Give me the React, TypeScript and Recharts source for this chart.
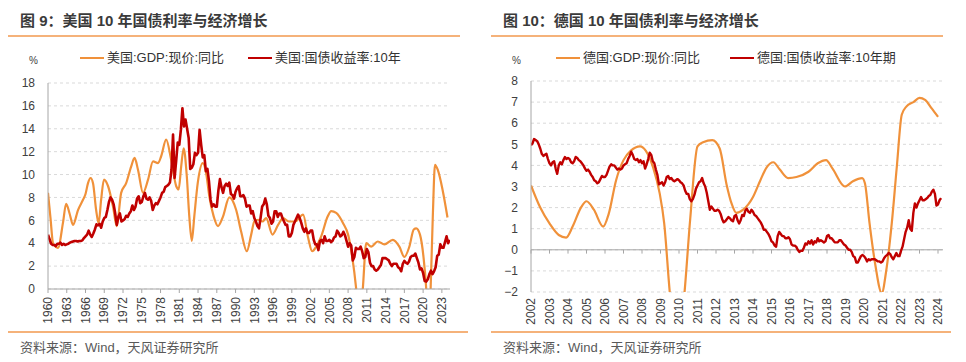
import { CartesianGrid, Line, LineChart, ReferenceLine, XAxis, YAxis } from "recharts";

const FONT = '"Liberation Sans", Arial, "Noto Sans CJK SC", sans-serif';
const ORANGE = "#F0913A";
const RED = "#C00000";
const AXIS = "#a6a6a6";
const GRID = "#d9d9d9";
const TEXT = "#404040";
const RULE = "#F5B27A";

// 美国 —— x 轴刻度
const usTicks = [1960, 1963, 1966, 1969, 1972, 1975, 1978, 1981, 1984, 1987, 1990, 1993, 1996, 1999, 2002, 2005, 2008, 2011, 2014, 2017, 2020, 2023];
const usYTicks = [0, 2, 4, 6, 8, 10, 12, 14, 16, 18];

// 美国:GDP:现价:同比 (时间, %)
const usGdp = [
  [1960.0, 8.4], [1960.4, 6.2], [1960.8, 4.0], [1961.6, 3.6], [1962.4, 5.8], [1962.9, 7.45], [1963.45, 6.6], [1964.0, 5.6],
  [1964.8, 6.9], [1965.6, 7.8], [1966.0, 8.3], [1966.4, 9.25], [1966.8, 9.7], [1967.2, 9.25], [1967.7, 6.9], [1968.1, 5.75],
  [1968.5, 7.8], [1968.95, 9.55], [1969.6, 9.0], [1970.4, 7.2], [1971.0, 5.5], [1971.7, 8.4], [1972.5, 9.25], [1973.3, 10.7],
  [1973.85, 11.45], [1974.4, 10.4], [1975.2, 8.4], [1976.0, 9.55], [1976.8, 11.15], [1977.6, 11.0], [1978.1, 11.6], [1978.9, 13.05],
  [1979.7, 11.3], [1980.5, 9.0], [1980.9, 8.7], [1981.3, 10.7], [1981.7, 12.3], [1982.2, 9.85], [1982.6, 6.35], [1983.0, 4.2],
  [1983.4, 6.35], [1983.95, 9.25], [1984.75, 11.0], [1985.3, 10.1], [1985.8, 8.1], [1986.5, 6.35], [1987.2, 5.5], [1988.0, 6.35],
  [1989.0, 8.0], [1990.1, 6.9], [1990.9, 5.0], [1991.8, 3.3], [1992.5, 4.75], [1993.0, 5.9], [1993.6, 6.05], [1994.3, 5.9],
  [1994.9, 6.2], [1995.9, 4.75], [1996.8, 5.6], [1997.6, 6.2], [1998.5, 5.9], [1999.5, 5.9], [2000.8, 6.5], [2001.6, 4.5],
  [2002.25, 3.3], [2003.0, 3.8], [2003.7, 4.6], [2004.75, 6.35], [2005.3, 6.8], [2006.1, 6.65], [2007.2, 5.75], [2008.0, 4.75],
  [2008.65, 2.85], [2009.3, 0], [2009.8, -3], [2010.35, 0], [2010.9, 4.0], [2011.7, 3.7], [2012.75, 4.15], [2013.8, 3.9],
  [2015.15, 4.3], [2016.2, 3.7], [2017.0, 2.8], [2017.8, 3.7], [2018.5, 5.2], [2018.9, 5.3], [2019.5, 4.75], [2020.05, 2.85],
  [2020.5, 0], [2020.85, -4], [2021.2, 0], [2021.55, 6.35], [2021.9, 10.85], [2022.35, 10.4], [2023.1, 8.7], [2023.9, 6.25],
];

// 美国:国债收益率:10年 (季度, 1960Q1 起)
const usYield = [
  4.75, 4.35, 3.95, 3.85, 3.85, 3.75, 3.95, 3.95, 4.05, 3.85, 3.95, 3.85, 3.9, 3.95, 4.05, 4.1,
  4.15, 4.2, 4.2, 4.15, 4.2, 4.2, 4.25, 4.45, 4.6, 4.75, 5.1, 4.75, 4.55, 4.85, 5.2, 5.65,
  5.55, 5.7, 5.35, 5.9, 6.2, 6.3, 6.9, 7.6, 8.0, 7.8, 7.4, 6.6, 5.6, 6.3, 6.6, 5.9,
  6.0, 6.1, 6.4, 6.3, 6.6, 6.8, 7.3, 6.9, 7.2, 7.9, 8.1, 7.5, 7.6, 8.1, 8.4, 7.9,
  7.8, 8.0, 7.7, 6.9, 7.3, 7.5, 7.4, 7.7, 8.0, 8.4, 8.5, 8.9, 9.0, 9.1, 9.3, 10.4,
  13.5, 9.7, 11.2, 12.8, 12.6, 13.9, 15.8, 14.2, 14.8, 14.0, 13.2, 10.5, 10.6, 10.9, 11.9, 11.7,
  11.9, 13.9, 12.6, 11.5, 11.7, 10.3, 10.5, 9.4, 7.8, 7.2, 7.4, 7.2, 7.2, 8.6, 9.6, 8.9,
  8.4, 9.0, 9.2, 9.0, 9.3, 8.3, 8.2, 7.9, 8.5, 8.8, 9.0, 8.1, 8.1, 8.2, 7.9, 7.2,
  7.3, 7.3, 6.6, 6.8, 6.2, 5.9, 5.5, 5.3, 6.2, 7.2, 7.4, 7.9, 7.4, 6.4, 6.2, 5.7,
  5.9, 6.8, 6.8, 6.3, 6.6, 6.6, 6.2, 5.9, 5.6, 5.6, 4.6, 4.6, 4.9, 5.6, 5.9, 6.2,
  6.5, 6.2, 5.8, 5.3, 5.0, 5.3, 4.9, 4.9, 5.1, 5.1, 4.3, 3.9, 3.9, 3.4, 4.2, 4.3,
  4.0, 4.6, 4.2, 4.2, 4.3, 4.1, 4.2, 4.5, 4.6, 5.1, 4.9, 4.6, 4.7, 5.0, 4.7, 4.2,
  3.7, 4.0, 3.8, 2.5, 2.8, 3.6, 3.5, 3.5, 3.7, 3.3, 2.7, 2.8, 3.5, 3.2, 2.3, 2.0,
  2.0, 1.7, 1.6, 1.7, 1.9, 2.1, 2.7, 2.7, 2.7, 2.6, 2.5, 2.2, 2.0, 2.2, 2.2, 2.2,
  1.9, 1.8, 1.55, 2.2, 2.45, 2.3, 2.2, 2.4, 2.8, 2.9, 2.9, 3.1, 2.7, 2.3, 1.7, 1.8,
  1.4, 0.7, 0.65, 0.85, 1.3, 1.6, 1.3, 1.55, 1.9, 2.9, 3.0, 3.9, 3.6, 3.6, 4.1, 4.6,
  4.0, 4.3,
];

// 德国 —— x 轴刻度
const deTicks = [2002, 2003, 2004, 2005, 2006, 2007, 2008, 2009, 2010, 2011, 2012, 2013, 2014, 2015, 2016, 2017, 2018, 2019, 2020, 2021, 2022, 2023, 2024];
const deYTicks = [-2, -1, 0, 1, 2, 3, 4, 5, 6, 7, 8];

// 德国:GDP:现价:同比 (时间, %)
const deGdp = [
  [2002.0, 3.05], [2002.5, 2.0], [2003.0, 1.25], [2003.5, 0.7], [2003.9, 0.58], [2004.25, 1.1], [2004.7, 2.0], [2005.0, 2.3],
  [2005.4, 1.9], [2005.9, 1.1], [2006.2, 1.7], [2006.6, 3.3], [2007.0, 4.25], [2007.4, 4.7], [2007.9, 4.9], [2008.2, 4.7],
  [2008.6, 3.9], [2008.95, 2.7], [2009.2, 1.25], [2009.5, -2.0], [2009.9, -5], [2010.3, -2.0], [2010.6, 1.4], [2011.0, 4.9],
  [2011.3, 5.1], [2011.8, 5.2], [2012.2, 4.8], [2012.57, 3.1], [2012.84, 2.2], [2013.1, 1.75], [2013.47, 1.9], [2014.0, 2.5],
  [2014.4, 3.3], [2014.73, 3.9], [2015.1, 4.15], [2015.45, 3.8], [2015.9, 3.4], [2016.35, 3.45], [2017.0, 3.7], [2017.5, 4.1],
  [2017.95, 4.25], [2018.3, 3.85], [2018.97, 3.0], [2019.4, 3.25], [2019.9, 3.4], [2020.05, 3.15], [2020.3, 1.25], [2020.6, -0.65],
  [2020.96, -2.05], [2021.2, -1.0], [2021.5, 1.25], [2021.77, 3.9], [2022.04, 6.4], [2022.3, 6.8], [2022.67, 7.0], [2023.0, 7.2],
  [2023.3, 7.1], [2023.66, 6.7], [2024.0, 6.3],
];

// 德国:国债收益率:10年期 (月度, 2002-01 起)
const deYield = [
  4.95, 5.05, 5.25, 5.2, 5.15, 5.0, 4.8, 4.55, 4.45, 4.5, 4.55, 4.3,
  4.1, 4.0, 4.15, 4.2, 3.85, 3.6, 4.0, 4.15, 4.05, 4.25, 4.4, 4.3,
  4.35, 4.3, 4.15, 4.1, 4.2, 4.4, 4.35, 4.25, 4.2, 4.1, 4.0, 3.85,
  3.75, 3.8, 3.7, 3.55, 3.45, 3.3, 3.25, 3.15, 3.2, 3.35, 3.5, 3.45,
  3.45, 3.55, 3.75, 3.95, 4.05, 4.0, 4.0, 3.9, 3.8, 3.85, 3.8, 3.85,
  4.0, 4.05, 4.1, 4.3, 4.45, 4.65, 4.5, 4.3, 4.25, 4.3, 4.15, 4.25,
  4.1, 4.2, 3.85, 4.05, 4.3, 4.6, 4.5, 4.2, 4.1, 3.8, 3.55, 3.1,
  3.15, 3.2, 3.05, 3.2, 3.45, 3.5, 3.35, 3.4, 3.3, 3.25, 3.3, 3.35,
  3.3, 3.2, 3.15, 3.05, 2.8, 2.65, 2.65, 2.4, 2.3, 2.4, 2.6, 2.9,
  3.05, 3.2, 3.25, 3.4, 3.15, 3.0, 2.7, 2.3, 1.9, 2.05, 1.95, 1.85,
  1.85, 1.9, 1.85, 1.7, 1.45, 1.3, 1.35, 1.45, 1.55, 1.5, 1.4, 1.35,
  1.6, 1.65, 1.4, 1.25, 1.4, 1.65, 1.6, 1.85, 1.95, 1.8, 1.75, 1.9,
  1.8, 1.65, 1.6, 1.5, 1.4, 1.3, 1.15, 0.95, 0.95, 0.85, 0.75, 0.6,
  0.4, 0.35, 0.2, 0.15, 0.65, 0.85, 0.75, 0.65, 0.65, 0.55, 0.55, 0.6,
  0.5, 0.25, 0.2, 0.2, 0.15, 0.0, -0.1, -0.05, -0.05, 0.1, 0.3, 0.25,
  0.4, 0.3, 0.45, 0.25, 0.4, 0.35, 0.55, 0.4, 0.45, 0.4, 0.35, 0.4,
  0.65, 0.7, 0.55, 0.55, 0.45, 0.35, 0.35, 0.35, 0.45, 0.45, 0.35, 0.25,
  0.2, 0.1, 0.0, 0.0, -0.1, -0.3, -0.35, -0.6, -0.6, -0.45, -0.3, -0.25,
  -0.3, -0.4, -0.55, -0.45, -0.5, -0.45, -0.45, -0.45, -0.5, -0.55, -0.55, -0.6,
  -0.55, -0.4, -0.3, -0.25, -0.15, -0.2, -0.35, -0.45, -0.3, -0.15, -0.3, -0.3,
  -0.05, 0.15, 0.5, 0.85, 1.05, 1.4, 1.0, 0.9, 1.75, 2.2, 2.0, 2.2,
  2.35, 2.5, 2.35, 2.35, 2.4, 2.45, 2.55, 2.6, 2.75, 2.85, 2.65, 2.1,
  2.15, 2.35, 2.45,
];

const usGdpData = usGdp.map(([t, v]) => ({ t, v }));
const usYieldData = usYield.map((v, i) => ({ t: 1960 + i / 4, v }));
const deGdpData = deGdp.map(([t, v]) => ({ t, v }));
const deYieldData = deYield.map((v, i) => ({ t: 2002 + i / 12, v }));

function fmtMinus(v: number) {
  return v < 0 ? `\u2212${-v}` : `${v}`;
}

function YearTick({ x, y, payload }: any) {
  return (
    <text x={x} y={y} transform={`rotate(-90, ${x}, ${y})`} textAnchor="end" dy="0.35em" fontSize={12} fill={TEXT} fontFamily={FONT}>
      {payload.value}
    </text>
  );
}

type LegendItem = { name: string; color: string; x: number };

function Frame({ left, title, items, children }: { left: number; title: string; items: LegendItem[]; children: any }) {
  return (
    <div style={{ position: "absolute", left, top: 0, width: 483, height: 362 }}>
      <div style={{ position: "absolute", left: 20, top: 10, fontSize: 15, fontWeight: 700, color: "#3a3a3a", lineHeight: "22px", whiteSpace: "nowrap" }}>
        {title}
      </div>
      <div style={{ position: "absolute", left: 8, top: 35, width: 452, height: 2, background: RULE }} />
      <div style={{ position: "absolute", left: 0, top: 0 }}>{children}</div>
      <div style={{ position: "absolute", left: 29, top: 54, fontSize: 10, color: TEXT, lineHeight: "14px" }}>%</div>
      {items.map((it) => (
        <div key={it.name} style={{ position: "absolute", left: it.x, top: 49, height: 18, display: "flex", alignItems: "center", whiteSpace: "nowrap" }}>
          <div style={{ width: 24, height: 2.5, background: it.color, marginRight: 3 }} />
          <span style={{ fontSize: 13, color: "#333", lineHeight: "18px" }}>{it.name}</span>
        </div>
      ))}
      <div style={{ position: "absolute", left: 8, top: 331, width: 460, height: 2, background: RULE }} />
      <div style={{ position: "absolute", left: 20, top: 339, fontSize: 13, color: "#595959", lineHeight: "18px", whiteSpace: "nowrap" }}>
        资料来源：Wind，天风证券研究所
      </div>
    </div>
  );
}

function UsChart() {
  return (
    <LineChart width={483} height={362} margin={{ top: 83, right: 33, bottom: 0, left: 0 }}>
      <CartesianGrid vertical={false} stroke={GRID} strokeDasharray="3 3" />
      <XAxis
        type="number"
        dataKey="t"
        domain={[1960, 2024.3]}
        ticks={usTicks}
        interval={0}
        allowDataOverflow
        height={73}
        stroke={AXIS}
        tickSize={4}
        tickMargin={4}
        tick={<YearTick />}
      />
      <YAxis
        type="number"
        domain={[0, 18]}
        ticks={usYTicks}
        interval={0}
        allowDataOverflow
        width={48}
        axisLine={{ stroke: AXIS }}
        tickLine={false}
        tickSize={0}
        tickMargin={13}
        tick={{ fontSize: 12, fill: TEXT, fontFamily: FONT }}
      />
      <Line data={usGdpData} dataKey="v" type="monotone" stroke={ORANGE} strokeWidth={2.2} dot={false} isAnimationActive={false} />
      <Line data={usYieldData} dataKey="v" type="linear" stroke={RED} strokeWidth={2.6} strokeLinejoin="round" dot={false} isAnimationActive={false} />
    </LineChart>
  );
}

function DeChart() {
  return (
    <LineChart width={483} height={362} margin={{ top: 81, right: 23, bottom: 0, left: 0 }}>
      <CartesianGrid vertical={false} stroke={GRID} strokeDasharray="3 3" />
      <XAxis
        type="number"
        dataKey="t"
        domain={[2002, 2024.27]}
        ticks={deTicks}
        interval={0}
        allowDataOverflow
        height={70}
        axisLine={false}
        tickLine={false}
        tickSize={0}
        tickMargin={6}
        tick={<YearTick />}
      />
      <YAxis
        type="number"
        domain={[-2, 8]}
        ticks={deYTicks}
        interval={0}
        allowDataOverflow
        width={48}
        axisLine={{ stroke: AXIS }}
        tickLine={false}
        tickSize={0}
        tickMargin={13}
        tickFormatter={fmtMinus}
        tick={{ fontSize: 12, fill: TEXT, fontFamily: FONT }}
      />
      <ReferenceLine y={0} stroke={AXIS} />
      {deTicks.map((yr) => (
        <ReferenceLine key={yr} segment={[{ x: yr, y: 0 }, { x: yr, y: -0.18 }]} stroke={AXIS} />
      ))}
      <Line data={deGdpData} dataKey="v" type="monotone" stroke={ORANGE} strokeWidth={2.2} dot={false} isAnimationActive={false} />
      <Line data={deYieldData} dataKey="v" type="linear" stroke={RED} strokeWidth={2.4} strokeLinejoin="round" dot={false} isAnimationActive={false} />
    </LineChart>
  );
}

export default function App() {
  return (
    <div style={{ position: "absolute", left: 0, top: 0, width: 966, height: 362, background: "#fff", fontFamily: FONT, overflow: "hidden" }}>
      <Frame
        left={0}
        title="图 9：美国 10 年国债利率与经济增长"
        items={[
          { name: "美国:GDP:现价:同比", color: ORANGE, x: 80 },
          { name: "美国:国债收益率:10年", color: RED, x: 248 },
        ]}
      >
        <UsChart />
      </Frame>
      <Frame
        left={483}
        title="图 10：德国 10 年国债利率与经济增长"
        items={[
          { name: "德国:GDP:现价:同比", color: ORANGE, x: 73 },
          { name: "德国:国债收益率:10年期", color: RED, x: 247 },
        ]}
      >
        <DeChart />
      </Frame>
    </div>
  );
}
